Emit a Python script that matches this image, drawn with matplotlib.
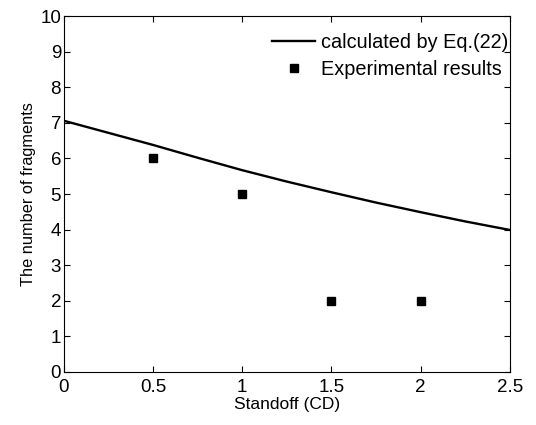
import matplotlib
matplotlib.use("Agg")
import matplotlib.pyplot as plt

plt.rcParams['font.family'] = ['Liberation Sans', 'DejaVu Sans']

calc_x = [0, 0.25, 0.5, 0.75, 1.0, 1.25, 1.5, 1.75, 2.0, 2.25, 2.5]
calc_y = [7.06, 6.72, 6.38, 6.02, 5.67, 5.35, 5.05, 4.76, 4.49, 4.23, 3.99]
exp_x = [0.5, 1.0, 1.5, 2.0]
exp_y = [6, 5, 2, 2]
xticks = [0, 0.5, 1, 1.5, 2, 2.5]
xticklabels = ['0', '0.5', '1', '1.5', '2', '2.5']
yticks = list(range(0, 11))

fig = plt.figure(figsize=(5.36, 4.25), dpi=100)
ax = fig.add_axes([0.119, 0.125, 0.832, 0.837])
ax.plot(calc_x, calc_y, color='black', lw=1.7, label='calculated by Eq.(22)')
ax.plot(exp_x, exp_y, ls='none', marker='s', ms=6, color='black', label='Experimental results')
ax.set_xlim(0, 2.5)
ax.set_ylim(0, 10)
ax.set_xticks(xticks)
ax.set_xticklabels(xticklabels)
ax.set_yticks(yticks)
ax.tick_params(direction='in', top=True, right=True, labelsize=13.5, length=4)
ax.tick_params(axis='x', pad=5)
ax.tick_params(axis='y', pad=2)
for s in ax.spines.values():
    s.set_linewidth(0.8)
ax.set_xlabel('Standoff (CD)', fontsize=12.5, labelpad=1)
ax.set_ylabel('The number of fragments', fontsize=11.8, labelpad=3)
ax.legend(loc='upper right', bbox_to_anchor=(1.02, 0.98), frameon=False, fontsize=14.3,
          handlelength=2.2, handletextpad=0.3, borderaxespad=0.2, borderpad=0.3,
          labelspacing=0.38, markerscale=0.9)
fig.savefig('out.png', dpi=100)
